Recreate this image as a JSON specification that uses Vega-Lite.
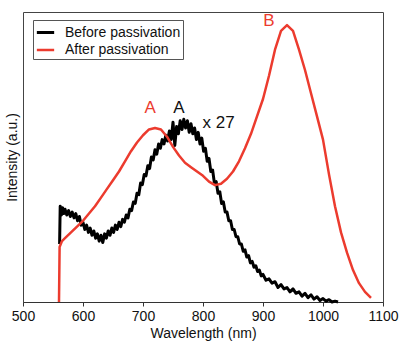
{
  "$schema": "https://vega.github.io/schema/vega-lite/v6.json",
  "width": 360,
  "height": 290,
  "autosize": "none",
  "padding": {"left": 23, "top": 12, "right": 21, "bottom": 50},
  "background": "white",
  "config": {
    "view": {"stroke": "#444", "strokeWidth": 1},
    "font": "Liberation Sans"
  },
  "datasets": {
    "spectra": [
      {"wl": 561, "I": 20, "s": "Before passivation"},
      {"wl": 562, "I": 33, "s": "Before passivation"},
      {"wl": 564, "I": 30, "s": "Before passivation"},
      {"wl": 566, "I": 32.5, "s": "Before passivation"},
      {"wl": 568, "I": 30.5, "s": "Before passivation"},
      {"wl": 570, "I": 32, "s": "Before passivation"},
      {"wl": 573, "I": 30, "s": "Before passivation"},
      {"wl": 576, "I": 31.5, "s": "Before passivation"},
      {"wl": 579, "I": 29.5, "s": "Before passivation"},
      {"wl": 582, "I": 31, "s": "Before passivation"},
      {"wl": 585, "I": 29, "s": "Before passivation"},
      {"wl": 588, "I": 30.5, "s": "Before passivation"},
      {"wl": 591, "I": 28, "s": "Before passivation"},
      {"wl": 594, "I": 29.5, "s": "Before passivation"},
      {"wl": 597, "I": 26.5, "s": "Before passivation"},
      {"wl": 600, "I": 27.5, "s": "Before passivation"},
      {"wl": 603, "I": 25, "s": "Before passivation"},
      {"wl": 606, "I": 26.5, "s": "Before passivation"},
      {"wl": 609, "I": 24, "s": "Before passivation"},
      {"wl": 612, "I": 25.5, "s": "Before passivation"},
      {"wl": 615, "I": 23, "s": "Before passivation"},
      {"wl": 618, "I": 24.5, "s": "Before passivation"},
      {"wl": 621, "I": 22, "s": "Before passivation"},
      {"wl": 624, "I": 23.5, "s": "Before passivation"},
      {"wl": 627, "I": 21, "s": "Before passivation"},
      {"wl": 630, "I": 23, "s": "Before passivation"},
      {"wl": 633, "I": 20.5, "s": "Before passivation"},
      {"wl": 636, "I": 23.5, "s": "Before passivation"},
      {"wl": 639, "I": 22, "s": "Before passivation"},
      {"wl": 642, "I": 24.5, "s": "Before passivation"},
      {"wl": 645, "I": 23, "s": "Before passivation"},
      {"wl": 648, "I": 25.5, "s": "Before passivation"},
      {"wl": 651, "I": 24, "s": "Before passivation"},
      {"wl": 654, "I": 26.5, "s": "Before passivation"},
      {"wl": 657, "I": 25, "s": "Before passivation"},
      {"wl": 660, "I": 27.5, "s": "Before passivation"},
      {"wl": 663, "I": 26, "s": "Before passivation"},
      {"wl": 666, "I": 28.5, "s": "Before passivation"},
      {"wl": 669, "I": 27.5, "s": "Before passivation"},
      {"wl": 672, "I": 30, "s": "Before passivation"},
      {"wl": 675, "I": 29, "s": "Before passivation"},
      {"wl": 678, "I": 32, "s": "Before passivation"},
      {"wl": 681, "I": 31.5, "s": "Before passivation"},
      {"wl": 684, "I": 34.5, "s": "Before passivation"},
      {"wl": 687, "I": 34, "s": "Before passivation"},
      {"wl": 690, "I": 37.5, "s": "Before passivation"},
      {"wl": 693, "I": 37, "s": "Before passivation"},
      {"wl": 696, "I": 41, "s": "Before passivation"},
      {"wl": 699, "I": 40.5, "s": "Before passivation"},
      {"wl": 702, "I": 44, "s": "Before passivation"},
      {"wl": 705, "I": 43.5, "s": "Before passivation"},
      {"wl": 708, "I": 47, "s": "Before passivation"},
      {"wl": 711, "I": 46, "s": "Before passivation"},
      {"wl": 714, "I": 50, "s": "Before passivation"},
      {"wl": 717, "I": 49, "s": "Before passivation"},
      {"wl": 720, "I": 52.5, "s": "Before passivation"},
      {"wl": 723, "I": 51, "s": "Before passivation"},
      {"wl": 726, "I": 54.5, "s": "Before passivation"},
      {"wl": 729, "I": 53, "s": "Before passivation"},
      {"wl": 732, "I": 56, "s": "Before passivation"},
      {"wl": 735, "I": 54.5, "s": "Before passivation"},
      {"wl": 738, "I": 57.5, "s": "Before passivation"},
      {"wl": 741, "I": 55.5, "s": "Before passivation"},
      {"wl": 744, "I": 59, "s": "Before passivation"},
      {"wl": 747, "I": 56, "s": "Before passivation"},
      {"wl": 750, "I": 62, "s": "Before passivation"},
      {"wl": 753, "I": 54, "s": "Before passivation"},
      {"wl": 756, "I": 60.5, "s": "Before passivation"},
      {"wl": 759, "I": 58, "s": "Before passivation"},
      {"wl": 762, "I": 62.5, "s": "Before passivation"},
      {"wl": 765, "I": 59.5, "s": "Before passivation"},
      {"wl": 768, "I": 63, "s": "Before passivation"},
      {"wl": 771, "I": 60, "s": "Before passivation"},
      {"wl": 774, "I": 62.5, "s": "Before passivation"},
      {"wl": 777, "I": 58.5, "s": "Before passivation"},
      {"wl": 780, "I": 61.5, "s": "Before passivation"},
      {"wl": 783, "I": 58, "s": "Before passivation"},
      {"wl": 786, "I": 60, "s": "Before passivation"},
      {"wl": 789, "I": 56, "s": "Before passivation"},
      {"wl": 792, "I": 58.5, "s": "Before passivation"},
      {"wl": 795, "I": 54.5, "s": "Before passivation"},
      {"wl": 798, "I": 56.5, "s": "Before passivation"},
      {"wl": 801, "I": 52, "s": "Before passivation"},
      {"wl": 804, "I": 53, "s": "Before passivation"},
      {"wl": 807, "I": 48.5, "s": "Before passivation"},
      {"wl": 810, "I": 49.5, "s": "Before passivation"},
      {"wl": 813, "I": 45, "s": "Before passivation"},
      {"wl": 816, "I": 45.5, "s": "Before passivation"},
      {"wl": 819, "I": 41, "s": "Before passivation"},
      {"wl": 822, "I": 41.5, "s": "Before passivation"},
      {"wl": 825, "I": 37.5, "s": "Before passivation"},
      {"wl": 828, "I": 38, "s": "Before passivation"},
      {"wl": 831, "I": 34, "s": "Before passivation"},
      {"wl": 834, "I": 34.5, "s": "Before passivation"},
      {"wl": 837, "I": 31, "s": "Before passivation"},
      {"wl": 840, "I": 31, "s": "Before passivation"},
      {"wl": 843, "I": 28, "s": "Before passivation"},
      {"wl": 846, "I": 28, "s": "Before passivation"},
      {"wl": 849, "I": 25, "s": "Before passivation"},
      {"wl": 852, "I": 25, "s": "Before passivation"},
      {"wl": 855, "I": 22.5, "s": "Before passivation"},
      {"wl": 858, "I": 22.5, "s": "Before passivation"},
      {"wl": 861, "I": 20, "s": "Before passivation"},
      {"wl": 864, "I": 20, "s": "Before passivation"},
      {"wl": 867, "I": 17.5, "s": "Before passivation"},
      {"wl": 870, "I": 18, "s": "Before passivation"},
      {"wl": 873, "I": 15.5, "s": "Before passivation"},
      {"wl": 876, "I": 16, "s": "Before passivation"},
      {"wl": 879, "I": 13.5, "s": "Before passivation"},
      {"wl": 882, "I": 14, "s": "Before passivation"},
      {"wl": 885, "I": 12, "s": "Before passivation"},
      {"wl": 888, "I": 12.5, "s": "Before passivation"},
      {"wl": 891, "I": 10.5, "s": "Before passivation"},
      {"wl": 894, "I": 11, "s": "Before passivation"},
      {"wl": 897, "I": 9, "s": "Before passivation"},
      {"wl": 900, "I": 9.5, "s": "Before passivation"},
      {"wl": 905, "I": 7.5, "s": "Before passivation"},
      {"wl": 910, "I": 8, "s": "Before passivation"},
      {"wl": 915, "I": 6.5, "s": "Before passivation"},
      {"wl": 920, "I": 7, "s": "Before passivation"},
      {"wl": 925, "I": 5, "s": "Before passivation"},
      {"wl": 930, "I": 6, "s": "Before passivation"},
      {"wl": 935, "I": 4.5, "s": "Before passivation"},
      {"wl": 940, "I": 5, "s": "Before passivation"},
      {"wl": 945, "I": 3.5, "s": "Before passivation"},
      {"wl": 950, "I": 4.5, "s": "Before passivation"},
      {"wl": 955, "I": 3, "s": "Before passivation"},
      {"wl": 960, "I": 3.5, "s": "Before passivation"},
      {"wl": 965, "I": 2, "s": "Before passivation"},
      {"wl": 970, "I": 3, "s": "Before passivation"},
      {"wl": 975, "I": 1.5, "s": "Before passivation"},
      {"wl": 980, "I": 2.5, "s": "Before passivation"},
      {"wl": 985, "I": 1, "s": "Before passivation"},
      {"wl": 990, "I": 1.8, "s": "Before passivation"},
      {"wl": 995, "I": 0.5, "s": "Before passivation"},
      {"wl": 1000, "I": 1.2, "s": "Before passivation"},
      {"wl": 1005, "I": 0.3, "s": "Before passivation"},
      {"wl": 1010, "I": 0.8, "s": "Before passivation"},
      {"wl": 1015, "I": 0, "s": "Before passivation"},
      {"wl": 1020, "I": 0.3, "s": "Before passivation"},
      {"wl": 1025, "I": 0, "s": "Before passivation"},
      {"wl": 560, "I": 0, "s": "After passivation"},
      {"wl": 561, "I": 19, "s": "After passivation"},
      {"wl": 565, "I": 21, "s": "After passivation"},
      {"wl": 570, "I": 22, "s": "After passivation"},
      {"wl": 580, "I": 24, "s": "After passivation"},
      {"wl": 590, "I": 26, "s": "After passivation"},
      {"wl": 600, "I": 28, "s": "After passivation"},
      {"wl": 610, "I": 30.5, "s": "After passivation"},
      {"wl": 620, "I": 33, "s": "After passivation"},
      {"wl": 630, "I": 36, "s": "After passivation"},
      {"wl": 640, "I": 39, "s": "After passivation"},
      {"wl": 650, "I": 42, "s": "After passivation"},
      {"wl": 660, "I": 45, "s": "After passivation"},
      {"wl": 670, "I": 48.5, "s": "After passivation"},
      {"wl": 680, "I": 52, "s": "After passivation"},
      {"wl": 690, "I": 55, "s": "After passivation"},
      {"wl": 700, "I": 57.5, "s": "After passivation"},
      {"wl": 710, "I": 59.5, "s": "After passivation"},
      {"wl": 720, "I": 60, "s": "After passivation"},
      {"wl": 730, "I": 59.5, "s": "After passivation"},
      {"wl": 740, "I": 57, "s": "After passivation"},
      {"wl": 750, "I": 53.5, "s": "After passivation"},
      {"wl": 760, "I": 50.5, "s": "After passivation"},
      {"wl": 770, "I": 48, "s": "After passivation"},
      {"wl": 780, "I": 46.5, "s": "After passivation"},
      {"wl": 790, "I": 45, "s": "After passivation"},
      {"wl": 800, "I": 43.5, "s": "After passivation"},
      {"wl": 810, "I": 41.5, "s": "After passivation"},
      {"wl": 820, "I": 40.3, "s": "After passivation"},
      {"wl": 830, "I": 40.8, "s": "After passivation"},
      {"wl": 840, "I": 42.5, "s": "After passivation"},
      {"wl": 850, "I": 45, "s": "After passivation"},
      {"wl": 860, "I": 48.5, "s": "After passivation"},
      {"wl": 870, "I": 53, "s": "After passivation"},
      {"wl": 880, "I": 58, "s": "After passivation"},
      {"wl": 890, "I": 64, "s": "After passivation"},
      {"wl": 900, "I": 70, "s": "After passivation"},
      {"wl": 910, "I": 78, "s": "After passivation"},
      {"wl": 920, "I": 87, "s": "After passivation"},
      {"wl": 930, "I": 93.5, "s": "After passivation"},
      {"wl": 940, "I": 95.5, "s": "After passivation"},
      {"wl": 950, "I": 93.5, "s": "After passivation"},
      {"wl": 960, "I": 87, "s": "After passivation"},
      {"wl": 970, "I": 80, "s": "After passivation"},
      {"wl": 980, "I": 72, "s": "After passivation"},
      {"wl": 990, "I": 64, "s": "After passivation"},
      {"wl": 1000, "I": 56, "s": "After passivation"},
      {"wl": 1010, "I": 44, "s": "After passivation"},
      {"wl": 1020, "I": 33, "s": "After passivation"},
      {"wl": 1030, "I": 24, "s": "After passivation"},
      {"wl": 1040, "I": 17, "s": "After passivation"},
      {"wl": 1050, "I": 11, "s": "After passivation"},
      {"wl": 1060, "I": 6.5, "s": "After passivation"},
      {"wl": 1070, "I": 3.5, "s": "After passivation"},
      {"wl": 1080, "I": 1.4, "s": "After passivation"}
    ],
    "redLabels": [
      {"wl": 712, "I": 67, "t": "A"},
      {"wl": 910, "I": 97, "t": "B"}
    ],
    "blackLabels": [
      {"wl": 760, "I": 67, "t": "A"},
      {"wl": 826, "I": 61.8, "t": "x 27"}
    ]
  },
  "layer": [
    {
      "data": {"name": "spectra"},
      "mark": {"type": "line", "strokeJoin": "round"},
      "encoding": {
        "x": {
          "field": "wl", "type": "quantitative",
          "scale": {"domain": [500, 1100], "nice": false, "zero": false},
          "axis": {
            "title": "Wavelength (nm)",
            "values": [500, 550, 600, 650, 700, 750, 800, 850, 900, 950, 1000, 1050, 1100],
            "labelExpr": "datum.value % 100 === 0 ? datum.label : ''",
            "format": "d",
            "grid": false,
            "domainColor": "#333",
            "tickColor": "#333",
            "tickSize": {"condition": {"test": "datum.value % 100 === 0", "value": 4}, "value": 2},
            "labelFontSize": 14,
            "labelColor": "#111",
            "labelPadding": 3,
            "labelFlush": false,
            "titleFontSize": 14,
            "titleFontWeight": "normal",
            "titleColor": "#111",
            "titlePadding": 3
          }
        },
        "y": {
          "field": "I", "type": "quantitative",
          "scale": {"domain": [0, 100], "nice": false},
          "axis": {
            "title": "Intensity (a.u.)",
            "labels": false,
            "ticks": false,
            "grid": false,
            "domain": false,
            "titleFontSize": 14,
            "titleFontWeight": "normal",
            "titleColor": "#111",
            "titlePadding": 4
          }
        },
        "color": {
          "field": "s", "type": "nominal",
          "scale": {"domain": ["Before passivation", "After passivation"], "range": ["#000000", "#ec3b2e"]},
          "legend": {
            "title": null,
            "orient": "none",
            "legendX": 10,
            "legendY": 8,
            "symbolType": "stroke",
            "symbolStrokeWidth": 3,
            "symbolSize": 300,
            "labelFontSize": 14,
            "labelColor": "#111",
            "labelOffset": 9,
            "labelLimit": 300,
            "rowPadding": 0,
            "padding": 2,
            "strokeColor": "#555",
            "fillColor": "white"
          }
        },
        "strokeWidth": {
          "field": "s", "type": "nominal",
          "scale": {"domain": ["Before passivation", "After passivation"], "range": [3, 2.5]},
          "legend": null
        },
        "order": {"field": "wl", "type": "quantitative"}
      }
    },
    {
      "data": {"name": "redLabels"},
      "mark": {"type": "text", "color": "#ec3b2e", "fontSize": 17, "baseline": "middle", "align": "center"},
      "encoding": {
        "x": {"field": "wl", "type": "quantitative"},
        "y": {"field": "I", "type": "quantitative"},
        "text": {"field": "t"}
      }
    },
    {
      "data": {"name": "blackLabels"},
      "mark": {"type": "text", "color": "#111", "fontSize": 17, "baseline": "middle", "align": "center"},
      "encoding": {
        "x": {"field": "wl", "type": "quantitative"},
        "y": {"field": "I", "type": "quantitative"},
        "text": {"field": "t"}
      }
    }
  ]
}
